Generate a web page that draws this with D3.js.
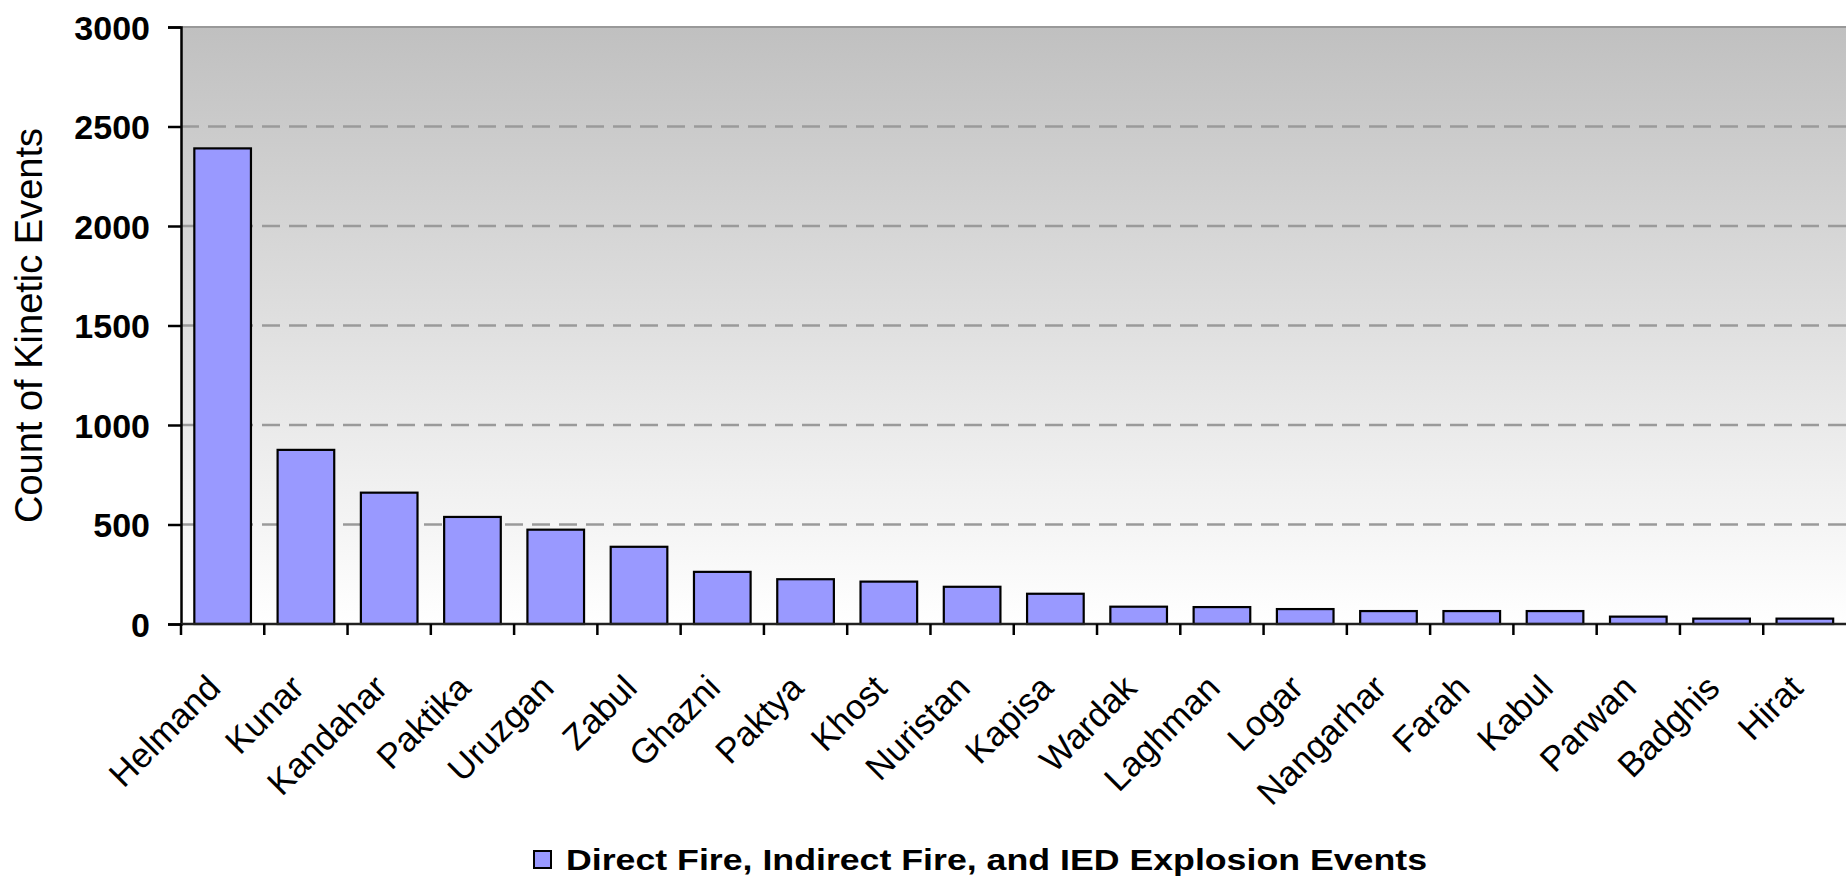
<!DOCTYPE html>
<html><head><meta charset="utf-8">
<script src="https://cdn.jsdelivr.net/npm/d3@7"></script>
<style>
html,body{margin:0;padding:0;background:#fff;}
svg{display:block;font-family:"Liberation Sans",Arial,sans-serif;}
</style></head>
<body>
<svg id="chart" width="1846" height="878"></svg>
<script>
const provinces = ["Helmand","Kunar","Kandahar","Paktika","Uruzgan","Zabul","Ghazni","Paktya","Khost","Nuristan","Kapisa","Wardak","Laghman","Logar","Nangarhar","Farah","Kabul","Parwan","Badghis","Hirat"];
const events = [2390,875,660,538,474,388,262,225,213,187,152,87,85,75,65,65,65,37,27,27];
const yTicks = [0,500,1000,1500,2000,2500,3000];
const seriesName = "Direct Fire, Indirect Fire, and IED Explosion Events";
const yTitle = "Count of Kinetic Events";

const W = 1846, H = 878;
const m = {left:181, right:0, top:27, bottom:254};
const svg = d3.select("#chart");

const x = d3.scaleBand().domain(provinces).range([m.left, W - m.right + 0.5]).paddingInner(0.32).paddingOuter(0.16);
const y = d3.scaleLinear().domain([0,3000]).range([H - m.bottom, m.top]);

const defs = svg.append("defs");
const grad = defs.append("linearGradient").attr("id","bg").attr("x1",0).attr("y1",0).attr("x2",0).attr("y2",1);
grad.append("stop").attr("offset","0%").attr("stop-color","#c0c0c0");
grad.append("stop").attr("offset","100%").attr("stop-color","#ffffff");

svg.append("rect").attr("x",m.left).attr("y",m.top).attr("width",W-m.left).attr("height",y(0)-m.top).attr("fill","url(#bg)");

// grid
svg.append("g").selectAll("line").data(yTicks.filter(d=>d>0 && d<3000)).join("line")
  .attr("x1",m.left).attr("x2",W).attr("y1",d=>y(d)).attr("y2",d=>y(d))
  .attr("stroke","#9a9a9a").attr("stroke-width",2.5).attr("stroke-dasharray","18,9");
// top border
svg.append("line").attr("x1",m.left).attr("x2",W).attr("y1",y(3000)).attr("y2",y(3000)).attr("stroke","#999").attr("stroke-width",2);

// bars
svg.append("g").selectAll("rect").data(provinces).join("rect")
  .attr("x",d=>x(d)).attr("width",x.bandwidth())
  .attr("y",(d,i)=>y(events[i])).attr("height",(d,i)=>y(0)-y(events[i]))
  .attr("fill","#9999ff").attr("stroke","#000").attr("stroke-width",2.2);

// y axis
const yAxis = d3.axisLeft(y).tickValues(yTicks).tickFormat(d3.format("d")).tickSize(13).tickPadding(18);
const gy = svg.append("g").attr("transform",`translate(${m.left},0)`).call(yAxis);
gy.select(".domain").attr("stroke","#000").attr("stroke-width",2.5);
gy.selectAll(".tick line").attr("stroke","#000").attr("stroke-width",2.5);
gy.selectAll("text").attr("font-size",34).attr("font-weight","bold").attr("fill","#000")
  .attr("font-family","Liberation Sans, Arial, sans-serif").attr("dy","0.36em");

// x axis with ticks at band boundaries
const boundaries = provinces.map(p => x(p) - x.step()*x.paddingInner()/2);
const gx = svg.append("g");
gx.append("line").attr("x1",m.left).attr("x2",W).attr("y1",y(0)).attr("y2",y(0)).attr("stroke","#222").attr("stroke-width",2.5);
gx.selectAll("line.t").data(boundaries).join("line").attr("class","t")
  .attr("x1",d=>d).attr("x2",d=>d).attr("y1",y(0)).attr("y2",y(0)+11).attr("stroke","#000").attr("stroke-width",2.5);
gx.selectAll("text").data(provinces).join("text")
  .attr("transform",d=>`translate(${x(d)+x.bandwidth()/2},${y(0)+66}) rotate(-45)`)
  .attr("text-anchor","end").attr("font-size",35).attr("fill","#000").text(d=>d);

// y title
svg.append("text").attr("transform",`translate(42,${(m.top+y(0))/2}) rotate(-90)`)
  .attr("text-anchor","middle").attr("font-size",38).attr("fill","#000").text(yTitle);

// legend
const lg = svg.append("g");
lg.append("rect").attr("x",534).attr("y",851).attr("width",17).attr("height",17).attr("fill","#9999ff").attr("stroke","#000").attr("stroke-width",2);
lg.append("text").attr("x",566).attr("y",870).attr("font-size",30).attr("font-weight","bold").attr("fill","#000")
  .attr("textLength",861).attr("lengthAdjust","spacingAndGlyphs").text(seriesName);
</script>
</body></html>
